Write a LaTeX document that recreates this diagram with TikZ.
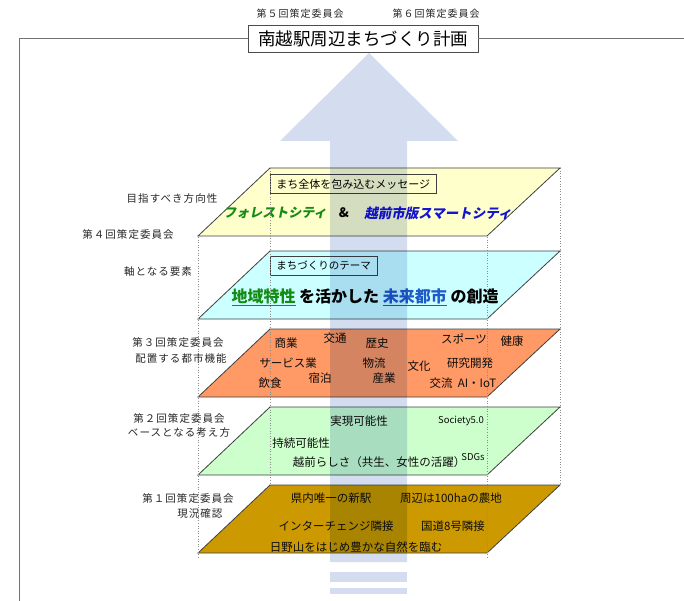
\documentclass[tikz,border=0pt]{standalone}
\usepackage{fontspec}
\setmainfont{Noto Sans CJK JP}
\newfontfamily\slantjp{Noto Sans CJK JP}[FakeSlant=0.2]
\newfontfamily\spacedjp{Noto Sans CJK JP}[LetterSpace=10]
\usetikzlibrary{positioning}

\definecolor{arrowblue}{RGB}{212,221,240}
\definecolor{layerA}{RGB}{255,255,204}
\definecolor{layerB}{RGB}{204,255,255}
\definecolor{layerC}{RGB}{255,153,102}
\definecolor{layerD}{RGB}{204,255,204}
\definecolor{layerE}{RGB}{204,153,0}
\definecolor{forestgreen}{RGB}{20,140,20}
\definecolor{smartblue}{RGB}{20,20,210}
\definecolor{cityblue}{RGB}{30,90,200}

\tikzset{
  layer/.style={draw=black!75, line width=0.8pt},
  guide/.style={draw=black!45, dotted, line width=0.6pt},
  frame/.style={draw=black!55, line width=0.8pt},
  lbl/.style={font=\spacedjp\fontsize{10.5}{12}\selectfont, text=black!85},
  item/.style={font=\fontsize{11.5}{13}\selectfont, text=black!95},
  small/.style={font=\fontsize{9.5}{11}\selectfont, text=black!95},
  msgbox/.style={draw=black!75, line width=0.8pt, inner xsep=6pt, minimum height=19pt,
    anchor=west, font=\fontsize{11}{12}\selectfont},
}

\begin{document}
\begin{tikzpicture}[x=1pt, y=-1pt]
\useasboundingbox (0,0) rectangle (684,601);

% layers
      \foreach \top/\col in {168/layerA, 251/layerB, 329/layerC, 407/layerD, 485/layerE}
        \filldraw[layer, fill=\col] (270,\top) -- (560,\top) -- (487,\top+68) -- (198,\top+68) -- cycle;

% layer 1
      \node[msgbox, fill=layerA] (msgA) at (270,184) {まち全体を包み込むメッセージ};
      \node[font=\fontsize{13}{14}\selectfont\bfseries\slantjp, text=forestgreen] (forest) at (275,213) {フォレストシティ};
      \node[font=\fontsize{13}{14}\selectfont\bfseries] (amp) at (344,213) {\&};
      \node[font=\fontsize{13.5}{14}\selectfont\bfseries\slantjp, text=smartblue] (smart) at (438,213) {越前市版スマートシティ};

% layer 2
      \node[msgbox, fill=layerB, font=\fontsize{10.5}{12}\selectfont] (msgB) at (270,266) {まちづくりのテーマ};
      \node[font=\fontsize{16}{18}\selectfont\bfseries] (theme) at (365,297)
        {\textcolor{forestgreen}{\underline{地域特性}} を活かした \textcolor{cityblue}{\underline{未来都市}} の創造};

% layer 3
      \node[item] (shogyo) at (286,343) {商業};
      \node[item] (kotsu) at (335,338) {交通};
      \node[item] (rekishi) at (377,343) {歴史};
      \node[item] (sports) at (464,339) {スポーツ};
      \node[item] (kenko) at (512,341) {健康};
      \node[item] (service) at (288,363) {サービス業};
      \node[item] (butsuryu) at (374,363) {物流};
      \node[item] (bunka) at (419,366) {文化};
      \node[item] (kenkyu) at (470,363) {研究開発};
      \node[item] (shukuhaku) at (320,378) {宿泊};
      \node[item] (sangyo) at (384,378) {産業};
      \node[item] (inshoku) at (270,383) {飲食};
      \node[item] (koryu) at (441,383) {交流};
      \node[item] (aiiot) at (477,383) {AI・IoT};

% layer 4
      \node[item] (jitsugen) at (359,421) {実現可能性};
      \node[small] (society) at (461,421) {Society5.0};
      \node[item] (jizoku) at (301,443) {持続可能性};
      \node[item] (echizen) at (379,462) {越前らしさ（共生、女性の活躍）};
      \node[small] (sdgs) at (473,457) {SDGs};

% layer 5
      \node[item] (eki) at (331,498) {県内唯一の新駅};
      \node[item] (nochi) at (451,498) {周辺は100haの農地};
      \node[item] (ic) at (336,526) {インターチェンジ隣接};
      \node[item] (kokudo) at (453,526) {国道8号隣接};
      \node[item] (hinoyama) at (356,547) {日野山をはじめ豊かな自然を臨む};

% arrow
      \begin{scope}[blend mode=multiply]
        \fill[arrowblue] (369,53) -- (458,141) -- (407,141) -- (407,562) -- (330,562) -- (330,141) -- (280,141) -- cycle;
        \fill[arrowblue] (330,572) rectangle (407,582);
        \fill[arrowblue] (330,588) rectangle (407,594);
      \end{scope}

% guides
      \draw[guide] (198,237) -- (198,558);
      \draw[guide] (487,237) -- (487,558);
      \draw[guide] (270,168) -- (270,485);
      \draw[guide] (560,168) -- (560,485);

% title and frame
      \node[draw=black!70, line width=0.8pt, fill=white, minimum width=230pt, minimum height=27pt,
        font=\fontsize{17.5}{19}\selectfont] (title) at (363,38.5) {南越駅周辺まちづくり計画};
      \node[lbl, font=\spacedjp\fontsize{10}{12}\selectfont] (meet5) at (300,14) {第５回策定委員会};
      \node[lbl, font=\spacedjp\fontsize{10}{12}\selectfont] (meet6) at (436,14) {第６回策定委員会};
      \coordinate (frameTL) at (19,38.5);
      \coordinate (frameBL) at (19,601);
      \coordinate (frameR) at (684,38.5);
      \draw[frame] (title.west) -- (frameTL) -- (frameBL);
      \draw[frame] (title.east) -- (frameR);

% left labels
      \node[lbl] (direction) at (172,199) {目指すべき方向性};
      \node[lbl] (meet4) at (128,235) {第４回策定委員会};
      \node[lbl] (axis) at (158,272) {軸となる要素};
      \node[lbl] (meet3) at (178,343) {第３回策定委員会};
      \node[lbl] (function) at (181,358) {配置する都市機能};
      \node[lbl] (meet2) at (179,419) {第２回策定委員会};
      \node[lbl] (base) at (179,433) {ベースとなる考え方};
      \node[lbl] (meet1) at (188,499) {第１回策定委員会};
      \node[lbl, anchor=east] (status) at (226,514) {現況確認};

    \end{tikzpicture}
\end{document}
